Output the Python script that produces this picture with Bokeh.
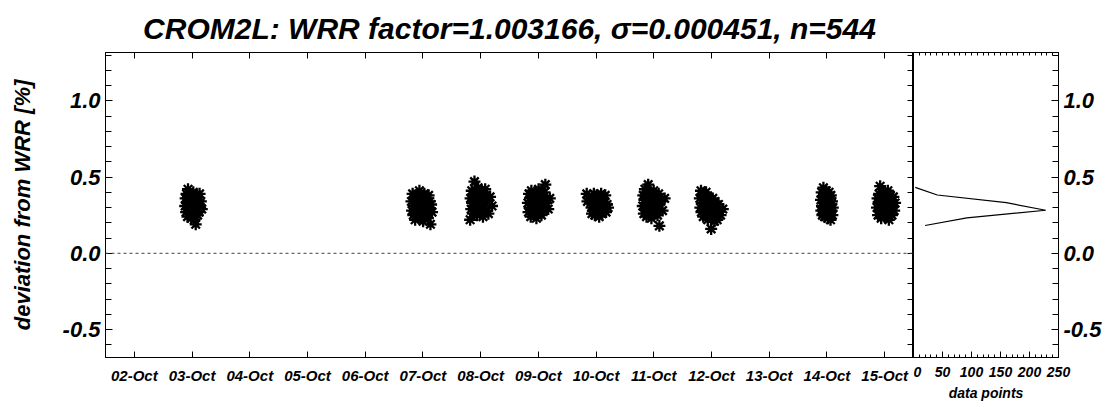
from bokeh.plotting import figure
from bokeh.layouts import row
from bokeh.models import Range1d, LinearAxis, FixedTicker, Span, PrintfTickFormatter
from bokeh.embed import file_html
from bokeh.resources import INLINE

FONT = "Liberation Sans"

# ---------------- data ----------------
TITLE = "CROM2L: WRR factor=1.003166, \u03c3=0.000451, n=544"
Y_LABEL = "deviation from WRR [%]"
HIST_LABEL = "data points"

day_ticks = [2, 3, 4, 5, 6, 7, 8, 9, 10, 11, 12, 13, 14, 15]
day_labels = ["02-Oct", "03-Oct", "04-Oct", "05-Oct", "06-Oct", "07-Oct", "08-Oct",
              "09-Oct", "10-Oct", "11-Oct", "12-Oct", "13-Oct", "14-Oct", "15-Oct"]

y_major = [-0.5, 0.0, 0.5, 1.0]
y_minor = [-0.6, -0.4, -0.3, -0.2, -0.1, 0.1, 0.2, 0.3, 0.4, 0.6, 0.7, 0.8, 0.9, 1.1, 1.2, 1.3]
hist_major = [0, 50, 100, 150, 200, 250]
hist_minor = [10, 20, 30, 40, 60, 70, 80, 90, 110, 120, 130, 140, 160, 170, 180, 190, 210, 220, 230, 240]

y_start, y_end = -0.6834, 1.3166
x_start, x_end = 1.5, 15.5

# cluster 03-Oct
x_03 = [2.881, 2.889, 2.897, 2.904, 2.913, 2.921, 2.930, 2.938, 2.947, 2.955, 2.962, 2.971, 2.980, 2.988, 2.996, 3.004, 3.013,
        3.021, 3.029, 3.038, 3.046, 3.054, 3.063, 3.071, 3.079, 3.088, 3.096, 3.104, 3.113, 3.121, 3.130, 3.139, 3.152, 3.168]
y_03 = [0.31, 0.36, 0.27, 0.39, 0.33, 0.24, 0.42, 0.30, 0.35, 0.26, 0.38, 0.29, 0.33, 0.23, 0.37, 0.31, 0.27,
        0.40, 0.34, 0.22, 0.30, 0.36, 0.19, 0.33, 0.28, 0.38, 0.25, 0.32, 0.35, 0.27, 0.39, 0.30, 0.34, 0.29]
# cluster 07-Oct
x_07 = [6.801, 6.812, 6.821, 6.833, 6.844, 6.853, 6.865, 6.874, 6.886, 6.897, 6.905, 6.918, 6.927, 6.939, 6.950, 6.959, 6.971,
        6.980, 6.992, 7.003, 7.012, 7.024, 7.033, 7.045, 7.056, 7.065, 7.077, 7.086, 7.098, 7.109, 7.118, 7.130, 7.141, 7.158]
y_07 = [0.34, 0.28, 0.39, 0.25, 0.31, 0.36, 0.22, 0.33, 0.29, 0.38, 0.26, 0.35, 0.30, 0.41, 0.24, 0.32, 0.37,
        0.27, 0.34, 0.21, 0.30, 0.39, 0.28, 0.33, 0.25, 0.36, 0.31, 0.23, 0.38, 0.29, 0.34, 0.19, 0.32, 0.27]
# cluster 08-Oct
x_08 = [7.818, 7.826, 7.837, 7.846, 7.853, 7.864, 7.872, 7.881, 7.893, 7.901, 7.909, 7.920, 7.928, 7.939, 7.947, 7.956, 7.967,
        7.975, 7.984, 7.995, 8.003, 8.012, 8.022, 8.031, 8.040, 8.049, 8.058, 8.069, 8.079, 8.092, 8.111, 8.134, 8.163, 8.197]
y_08 = [0.22, 0.36, 0.29, 0.41, 0.33, 0.26, 0.38, 0.31, 0.47, 0.35, 0.28, 0.40, 0.32, 0.25, 0.37, 0.43, 0.30,
        0.34, 0.27, 0.39, 0.33, 0.41, 0.29, 0.36, 0.24, 0.38, 0.31, 0.35, 0.42, 0.28, 0.34, 0.26, 0.37, 0.31]
# cluster 09-Oct
x_09 = [8.819, 8.830, 8.838, 8.849, 8.857, 8.868, 8.879, 8.887, 8.898, 8.906, 8.917, 8.928, 8.936, 8.947, 8.955, 8.966, 8.977,
        8.985, 8.996, 9.004, 9.015, 9.026, 9.034, 9.045, 9.053, 9.064, 9.075, 9.083, 9.094, 9.108, 9.121, 9.143, 9.171, 9.198]
y_09 = [0.33, 0.27, 0.39, 0.30, 0.36, 0.24, 0.41, 0.32, 0.28, 0.37, 0.34, 0.26, 0.40, 0.31, 0.35, 0.23, 0.38,
        0.29, 0.33, 0.42, 0.27, 0.36, 0.31, 0.39, 0.25, 0.34, 0.30, 0.37, 0.28, 0.40, 0.45, 0.33, 0.29, 0.36]
# cluster 10-Oct
x_10 = [9.838, 9.851, 9.872, 9.921, 9.929, 9.938, 9.946, 9.953, 9.962, 9.970, 9.979, 9.987, 9.995, 10.004, 10.012, 10.021, 10.029,
        10.037, 10.046, 10.054, 10.063, 10.071, 10.079, 10.088, 10.096, 10.105, 10.113, 10.121, 10.132, 10.144, 10.158, 10.173, 10.190, 10.208]
y_10 = [0.39, 0.34, 0.36, 0.30, 0.26, 0.37, 0.32, 0.28, 0.39, 0.34, 0.25, 0.31, 0.36, 0.29, 0.38, 0.33, 0.27,
        0.35, 0.30, 0.24, 0.37, 0.32, 0.28, 0.39, 0.34, 0.26, 0.31, 0.36, 0.29, 0.33, 0.38, 0.27, 0.32, 0.30]
# cluster 11-Oct
x_11 = [10.809, 10.818, 10.828, 10.837, 10.846, 10.857, 10.866, 10.874, 10.885, 10.894, 10.903, 10.913, 10.922, 10.931, 10.942, 10.950, 10.959,
        10.970, 10.979, 10.988, 10.998, 11.007, 11.016, 11.027, 11.035, 11.044, 11.055, 11.064, 11.073, 11.084, 11.097, 11.121, 11.152, 11.188]
y_11 = [0.31, 0.38, 0.26, 0.35, 0.42, 0.29, 0.33, 0.24, 0.39, 0.30, 0.45, 0.36, 0.27, 0.34, 0.40, 0.31, 0.23,
        0.37, 0.32, 0.28, 0.41, 0.35, 0.26, 0.33, 0.38, 0.29, 0.36, 0.25, 0.32, 0.39, 0.18, 0.34, 0.28, 0.36]
# cluster 12-Oct
x_12 = [11.798, 11.807, 11.818, 11.826, 11.837, 11.846, 11.857, 11.866, 11.876, 11.885, 11.896, 11.905, 11.915, 11.924, 11.935, 11.944, 11.955,
        11.963, 11.974, 11.983, 11.994, 12.002, 12.013, 12.022, 12.033, 12.041, 12.052, 12.061, 12.072, 12.083, 12.098, 12.121, 12.157, 12.196]
y_12 = [0.36, 0.30, 0.41, 0.27, 0.38, 0.33, 0.24, 0.39, 0.31, 0.35, 0.26, 0.40, 0.29, 0.34, 0.22, 0.37, 0.30,
        0.25, 0.35, 0.28, 0.16, 0.33, 0.23, 0.36, 0.27, 0.31, 0.21, 0.34, 0.26, 0.30, 0.22, 0.32, 0.25, 0.29]
# cluster 14-Oct
x_14 = [13.897, 13.903, 13.909, 13.915, 13.921, 13.927, 13.933, 13.939, 13.945, 13.952, 13.958, 13.964, 13.970, 13.976, 13.982, 13.988, 13.994,
        14.000, 14.007, 14.013, 14.019, 14.025, 14.031, 14.037, 14.043, 14.049, 14.056, 14.062, 14.068, 14.074, 14.080, 14.087, 14.094, 14.101]
y_14 = [0.35, 0.28, 0.40, 0.31, 0.25, 0.37, 0.33, 0.43, 0.29, 0.36, 0.24, 0.39, 0.32, 0.27, 0.34, 0.41, 0.30,
        0.26, 0.38, 0.33, 0.23, 0.36, 0.29, 0.40, 0.31, 0.27, 0.35, 0.22, 0.38, 0.32, 0.28, 0.34, 0.25, 0.30]
# cluster 15-Oct
x_15 = [14.868, 14.877, 14.886, 14.895, 14.904, 14.913, 14.922, 14.931, 14.940, 14.948, 14.957, 14.966, 14.975, 14.984, 14.993, 15.002, 15.011,
        15.020, 15.029, 15.038, 15.047, 15.056, 15.065, 15.073, 15.082, 15.091, 15.100, 15.109, 15.118, 15.127, 15.138, 15.151, 15.165, 15.181]
y_15 = [0.30, 0.36, 0.25, 0.33, 0.39, 0.28, 0.44, 0.31, 0.23, 0.37, 0.34, 0.27, 0.40, 0.30, 0.35, 0.24, 0.38,
        0.32, 0.26, 0.36, 0.29, 0.41, 0.33, 0.22, 0.35, 0.30, 0.38, 0.27, 0.34, 0.25, 0.31, 0.37, 0.28, 0.33]

# histogram of deviations (bin centre, count)
hist_bins = [0.432, 0.382, 0.332, 0.282, 0.232, 0.182]
hist_counts = [3, 41, 160, 228, 92, 20]

all_x = x_03 + x_07 + x_08 + x_09 + x_10 + x_11 + x_12 + x_14 + x_15
all_y = y_03 + y_07 + y_08 + y_09 + y_10 + y_11 + y_12 + y_14 + y_15

# ---------------- helpers ----------------
def style_axis(ax, size, tick_in, minor_in):
    ax.axis_line_color = "black"
    ax.axis_line_width = 1
    ax.major_tick_line_color = "black"
    ax.minor_tick_line_color = "black"
    ax.major_tick_in = tick_in
    ax.major_tick_out = 0
    ax.minor_tick_in = minor_in
    ax.minor_tick_out = 0
    ax.major_label_text_font = FONT
    ax.major_label_text_font_style = "bold italic"
    ax.major_label_text_color = "black"
    ax.major_label_text_font_size = size


def tick_only_axis(ticks, length):
    # all ticks drawn as minor ticks, so the axis carries no labels
    ax = LinearAxis(ticker=FixedTicker(ticks=[], minor_ticks=ticks))
    style_axis(ax, "14px", 0, length)
    ax.major_label_standoff = 0
    return ax


# ---------------- main panel ----------------
p = figure(frame_width=808, frame_height=305,
           x_range=Range1d(x_start, x_end), y_range=Range1d(y_start, y_end),
           x_axis_type=None, y_axis_type=None,
           min_border_left=105, min_border_right=0, min_border_top=52, min_border_bottom=48,
           output_backend="svg", toolbar_location=None)
p.outline_line_color = "black"
p.background_fill_color = "white"
p.border_fill_color = "white"

p.title.text = TITLE
p.title.align = "center"
p.title.vertical_align = "top"
p.title.text_font = FONT
p.title.text_font_style = "bold italic"
p.title.text_font_size = "30px"
p.title.text_color = "black"
p.title.standoff = 12

labels_map = {d: lab for d, lab in zip(day_ticks, day_labels)}

xb = LinearAxis(ticker=FixedTicker(ticks=day_ticks, minor_ticks=[]), major_label_overrides=labels_map)
style_axis(xb, "15px", 6, 0)
xb.major_label_standoff = 9
p.add_layout(xb, "below")

p.add_layout(tick_only_axis(day_ticks, 6), "above")

yl = LinearAxis(ticker=FixedTicker(ticks=y_major, minor_ticks=y_minor), axis_label=Y_LABEL,
                formatter=PrintfTickFormatter(format="%.1f"))
style_axis(yl, "22px", 7, 6)
yl.major_label_standoff = 5
yl.axis_label_text_font = FONT
yl.axis_label_text_font_style = "bold italic"
yl.axis_label_text_font_size = "22px"
yl.axis_label_text_color = "black"
yl.axis_label_standoff = 25
p.add_layout(yl, "left")

p.add_layout(tick_only_axis(y_major + y_minor, 6), "right")

p.add_layout(Span(location=0.0, dimension="width", line_color="#444444",
                  line_dash="3 3", line_width=1))

p.scatter(all_x, all_y, marker="asterisk", size=12, line_color="black", line_width=2.3)

# ---------------- histogram panel ----------------
h = figure(frame_width=145, frame_height=305,
           x_range=Range1d(0, 250), y_range=Range1d(y_start, y_end),
           x_axis_type=None, y_axis_type=None,
           min_border_left=0, min_border_right=50, min_border_top=52, min_border_bottom=48,
           output_backend="svg", toolbar_location=None)
h.outline_line_color = "black"
h.background_fill_color = "white"
h.border_fill_color = "white"

hb = LinearAxis(ticker=FixedTicker(ticks=hist_major, minor_ticks=hist_minor), axis_label=HIST_LABEL)
style_axis(hb, "14px", 6, 3)
hb.major_label_standoff = 9
hb.axis_label_text_font = FONT
hb.axis_label_text_font_style = "bold italic"
hb.axis_label_text_font_size = "14px"
hb.axis_label_text_color = "black"
hb.axis_label_standoff = 5
h.add_layout(hb, "below")

h.add_layout(tick_only_axis(hist_major + hist_minor, 3), "above")

hr = LinearAxis(ticker=FixedTicker(ticks=y_major, minor_ticks=y_minor),
                formatter=PrintfTickFormatter(format="%.1f"))
style_axis(hr, "22px", 7, 6)
hr.major_label_standoff = 5
h.add_layout(hr, "right")

h.line(hist_counts, hist_bins, line_color="black", line_width=1.2)

layout = row(p, h)
open("out.html", "w").write(file_html(layout, INLINE))
